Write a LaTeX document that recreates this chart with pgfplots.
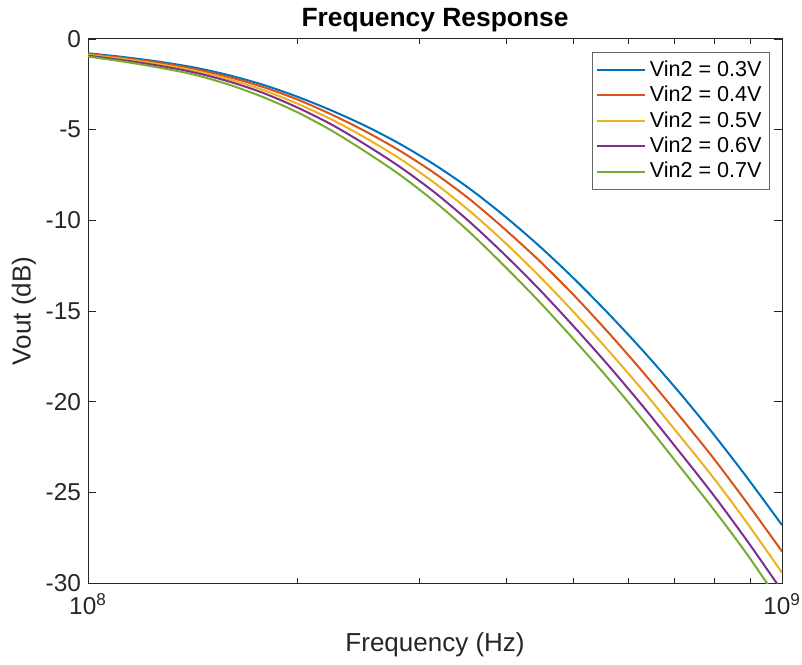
\documentclass[border=0pt]{standalone}
\usepackage{pgfplots}
\pgfplotsset{compat=1.18}
\usepackage{pgfplotstable}
\usepackage{fontspec}
\setmainfont{Liberation Sans}
\definecolor{c1}{rgb}{0,0.447,0.741}
\definecolor{c2}{rgb}{0.85,0.325,0.098}
\definecolor{c3}{rgb}{0.929,0.694,0.125}
\definecolor{c4}{rgb}{0.494,0.184,0.556}
\definecolor{c5}{rgb}{0.466,0.674,0.188}
\definecolor{axc}{rgb}{0.15,0.15,0.15}
\pgfplotstableread{
f          a       b       c       d       e
1e8       -0.79   -0.83   -0.87   -0.92   -0.97
1.1220e8  -0.99   -1.04   -1.10   -1.17   -1.24
1.2589e8  -1.24   -1.30   -1.38   -1.46   -1.56
1.4125e8  -1.55   -1.63   -1.72   -1.82   -1.94
1.5849e8  -1.97   -2.07   -2.19   -2.31   -2.48
1.7783e8  -2.50   -2.62   -2.78   -2.94   -3.17
1.9953e8  -3.16   -3.31   -3.54   -3.75   -4.01
2.2387e8  -3.93   -4.15   -4.42   -4.70   -5.03
2.5119e8  -4.80   -5.10   -5.46   -5.83   -6.22
2.8184e8  -5.80   -6.18   -6.62   -7.07   -7.51
3.1623e8  -6.95   -7.42   -7.96   -8.48   -8.99
3.5481e8  -8.26   -8.84   -9.49   -10.09  -10.66
3.9811e8  -9.76   -10.47  -11.20  -11.88  -12.52
4.4668e8  -11.41  -12.22  -13.07  -13.80  -14.48
5.0119e8  -13.21  -14.13  -15.07  -15.86  -16.57
5.6234e8  -15.15  -16.20  -17.19  -18.01  -18.74
6.3096e8  -17.21  -18.39  -19.41  -20.28  -21.04
7.0795e8  -19.40  -20.69  -21.76  -22.66  -23.45
7.9433e8  -21.73  -23.06  -24.14  -25.09  -25.87
8.9125e8  -24.21  -25.61  -26.71  -27.69  -28.44
1e9       -26.81  -28.26  -29.44  -30.44  -31.24
}\data
\begin{document}
\begin{tikzpicture}
\begin{axis}[
  scale only axis,
  width=347pt, height=272pt,
  xmode=log, xmin=1e8, xmax=1e9, ymin=-30, ymax=0,
  xtick={1e8,1e9},
  xticklabels={10\textsuperscript{8},10\textsuperscript{9}},
  ytick={-30,-25,-20,-15,-10,-5,0},
  yticklabels={-30,-25,-20,-15,-10,-5,0},
  minor xtick={2e8,3e8,4e8,5e8,6e8,7e8,8e8,9e8},
  tick align=inside,
  major tick length=4pt, minor tick length=2.5pt,
  tick style={axc, line width=0.4pt},
  axis line style={axc, line width=0.5pt},
  ticklabel style={font=\fontsize{12.2}{14}\selectfont, text=axc},
  xticklabel style={yshift=-2pt},
  xlabel={Frequency (Hz)}, ylabel={Vout (dB)},
  label style={font=\fontsize{13}{15}\selectfont, text=axc},
  xlabel style={yshift=-2pt},
  ylabel style={yshift=-2pt},
  title={\textbf{Frequency Response}},
  title style={font=\fontsize{13.2}{15}\selectfont, yshift=-6pt},
  legend style={at={(0.9827,0.976)}, anchor=north east, draw=axc!70, line width=0.4pt,
    font=\fontsize{10.8}{13}\selectfont, row sep=-0.6pt, inner sep=2pt},
  legend cell align=left,
  legend image post style={xscale=1.4},
  every axis plot/.append style={line width=1pt},
]
\addplot[c1, smooth] table[x=f, y=a] {\data};
\addplot[c2, smooth] table[x=f, y=b] {\data};
\addplot[c3, smooth] table[x=f, y=c] {\data};
\addplot[c4, smooth] table[x=f, y=d] {\data};
\addplot[c5, smooth] table[x=f, y=e] {\data};
\legend{Vin2 = 0.3V, Vin2 = 0.4V, Vin2 = 0.5V, Vin2 = 0.6V, Vin2 = 0.7V}
\end{axis}
\pgfresetboundingbox
\path (-44pt,-40.5pt) rectangle (357pt,291.5pt);
\end{tikzpicture}
\end{document}
